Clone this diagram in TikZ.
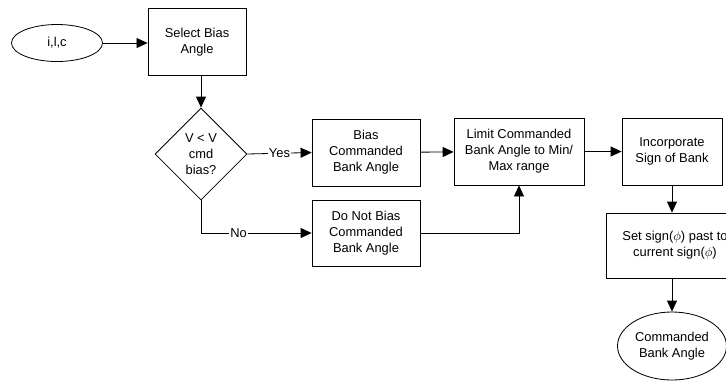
\documentclass[tikz,border=0pt]{standalone}
\usepackage{fontspec}
\setmainfont{Liberation Sans}
\usetikzlibrary{shapes.geometric,arrows.meta}

\begin{document}
\begin{tikzpicture}[x=0.03cm, y=-0.03cm]
  \tikzset{
    block/.style={draw, line width=0.7pt, align=center, inner sep=2pt,
      minimum height=2.01cm, font=\fontsize{11}{13.6}\selectfont},
    term/.style={draw, ellipse, line width=0.7pt, align=center, inner sep=1pt,
      font=\fontsize{11}{13.6}\selectfont},
    decide/.style={draw, diamond, aspect=1, line width=0.7pt, align=center,
      inner sep=0pt, minimum width=2.76cm, minimum height=2.76cm,
      font=\fontsize{11}{13.6}\selectfont},
    flow/.style={line width=0.7pt, -{Triangle[length=0.33cm,width=0.3cm]}},
    lbl/.style={fill=white, inner sep=1pt, font=\fontsize{11}{13.6}\selectfont}
  }

  % frame of the picture
  \useasboundingbox (0,0) rectangle (726,381);

  % nodes
  \node[term, minimum width=2.73cm, minimum height=1.11cm] (start) at (57,43) {i,l,c};
  \node[block, minimum width=2.94cm] (sel) at (197,42) {Select Bias\\Angle};
  \node[decide] (dec) at (201,154) {V < V\\cmd\\bias?};
  \node[block, minimum width=3.24cm] (bias) at (366,152.5) {Bias\\Commanded\\Bank Angle};
  \node[block, minimum width=3.24cm, minimum height=1.98cm] (nobias) at (366,233) {Do Not Bias\\Commanded\\Bank Angle};
  \node[block, minimum width=3.9cm] (limit) at (519,151.5) {Limit Commanded\\Bank Angle to Min/\\Max range};
  \node[block, minimum width=3.0cm] (incorp) at (672,151.5) {Incorporate\\Sign of Bank};
  \node[block, minimum width=4.1cm, minimum height=1.95cm] (setsign) at (675,245.5) {Set sign($\phi$) past to\\current sign($\phi$)};
  \node[term, minimum width=3.27cm, minimum height=2.04cm] (endn) at (672,346) {Commanded\\Bank Angle};

  % connectors
  \draw[flow] (start.east) -- (start.east -| sel.west);
  \draw[flow] (sel.south -| dec.north) -- (dec.north);
  \draw[flow] (dec.east) -- node[lbl] {Yes} (bias.west);
  \draw[flow] (dec.south) |- node[lbl, pos=0.67] {No} (nobias.west);
  \draw[flow] (bias) -- (limit);
  \draw[flow] (nobias.east) -| (limit.south);
  \draw[flow] (limit) -- (incorp);
  \draw[flow] (incorp.south) -- (incorp.south |- setsign.north);
  \draw[flow] (setsign.south -| endn.north) -- (endn.north);
\end{tikzpicture}
\end{document}
